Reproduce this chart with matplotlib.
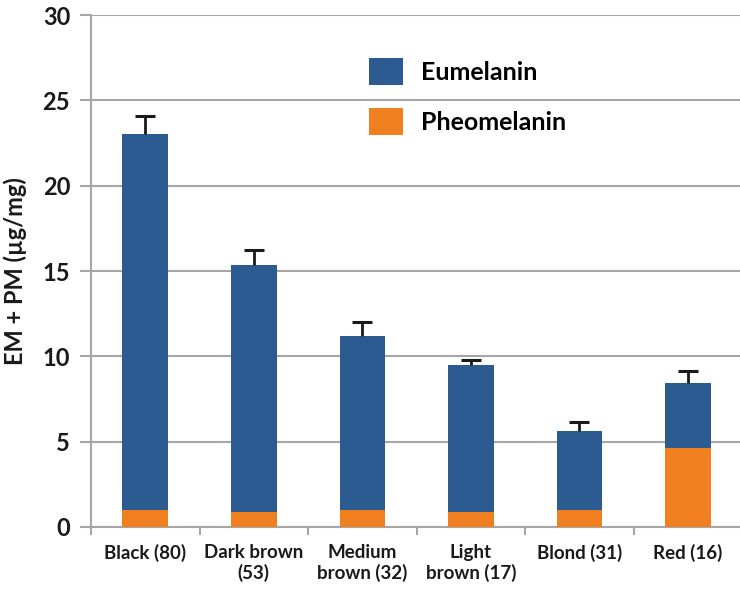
import numpy as np
import matplotlib
matplotlib.use("Agg")
import matplotlib.pyplot as plt
from matplotlib.patches import Patch

plt.rcParams['font.family'] = ['Lato', 'DejaVu Sans']

categories = ["Black (80)", "Dark brown\n(53)", "Medium\nbrown (32)",
              "Light\nbrown (17)", "Blond (31)", "Red (16)"]
total = [23.05, 15.33, 11.2, 9.51, 5.64, 8.46]
pheomelanin = [0.99, 0.86, 1.0, 0.86, 0.99, 4.61]
error = [1.05, 0.91, 0.8, 0.27, 0.54, 0.66]

eumelanin = [t - p for t, p in zip(total, pheomelanin)]
err_top = [t + e for t, e in zip(total, error)]

blue = "#2B5B91"
orange = "#F0801F"
grid_c = "#A6A6A6"
ink = "#1a1a1a"

fig = plt.figure(figsize=(7.4, 5.96), dpi=100)
ax = fig.add_axes([0.123, 0.1158, 0.88, 0.859])

x = np.arange(len(categories))
w = 0.42
ax.bar(x, pheomelanin, w, color=orange, zorder=3)
ax.bar(x, eumelanin, w, bottom=pheomelanin, color=blue, zorder=3)
# upper-only error bars: stem plus a cap at the top
ax.vlines(x, total, err_top, color=ink, linewidth=2, zorder=4)
ax.plot(x, err_top, linestyle='none', marker='_', markersize=14,
        markeredgewidth=2.2, color=ink, zorder=4)

ax.set_ylim(0, 30)
ax.set_yticks(np.arange(0, 31, 5))
ax.set_xlim(-0.5, len(categories) - 0.5)
ax.yaxis.grid(True, color=grid_c, linewidth=1.5, zorder=0)
ax.set_axisbelow(True)

ax.set_xticks(x)
ax.set_xticklabels(categories, fontsize=13.5, fontweight='bold', color=ink)
ax.set_xticks(np.arange(-0.5, len(categories), 1.0), minor=True)
ax.tick_params(axis='x', which='major', length=0, pad=12)
ax.tick_params(axis='x', which='minor', length=6, width=1.5, color=grid_c)
ax.tick_params(axis='y', length=8, width=1.5, color=grid_c, pad=7,
               labelsize=17)
for lbl in ax.get_yticklabels():
    lbl.set_fontweight('bold')
    lbl.set_color(ink)

for s in ['top', 'right']:
    ax.spines[s].set_visible(False)
for s in ['left', 'bottom']:
    ax.spines[s].set_color(grid_c)
    ax.spines[s].set_linewidth(1.5)

ax.set_ylabel("EM + PM (µg/mg)", fontsize=17, fontweight='bold',
              color=ink, labelpad=11)

handles = [Patch(facecolor=blue), Patch(facecolor=orange)]
leg = ax.legend(handles, ["Eumelanin", "Pheomelanin"], loc='upper left',
                bbox_to_anchor=(0.427, 0.916), frameon=False,
                prop={'family': 'Lato', 'weight': 'bold', 'size': 18},
                handlelength=1.36, handleheight=1.28, handletextpad=0.72,
                labelspacing=0.92, borderpad=0, borderaxespad=0)

fig.savefig("out.png", dpi=100)
